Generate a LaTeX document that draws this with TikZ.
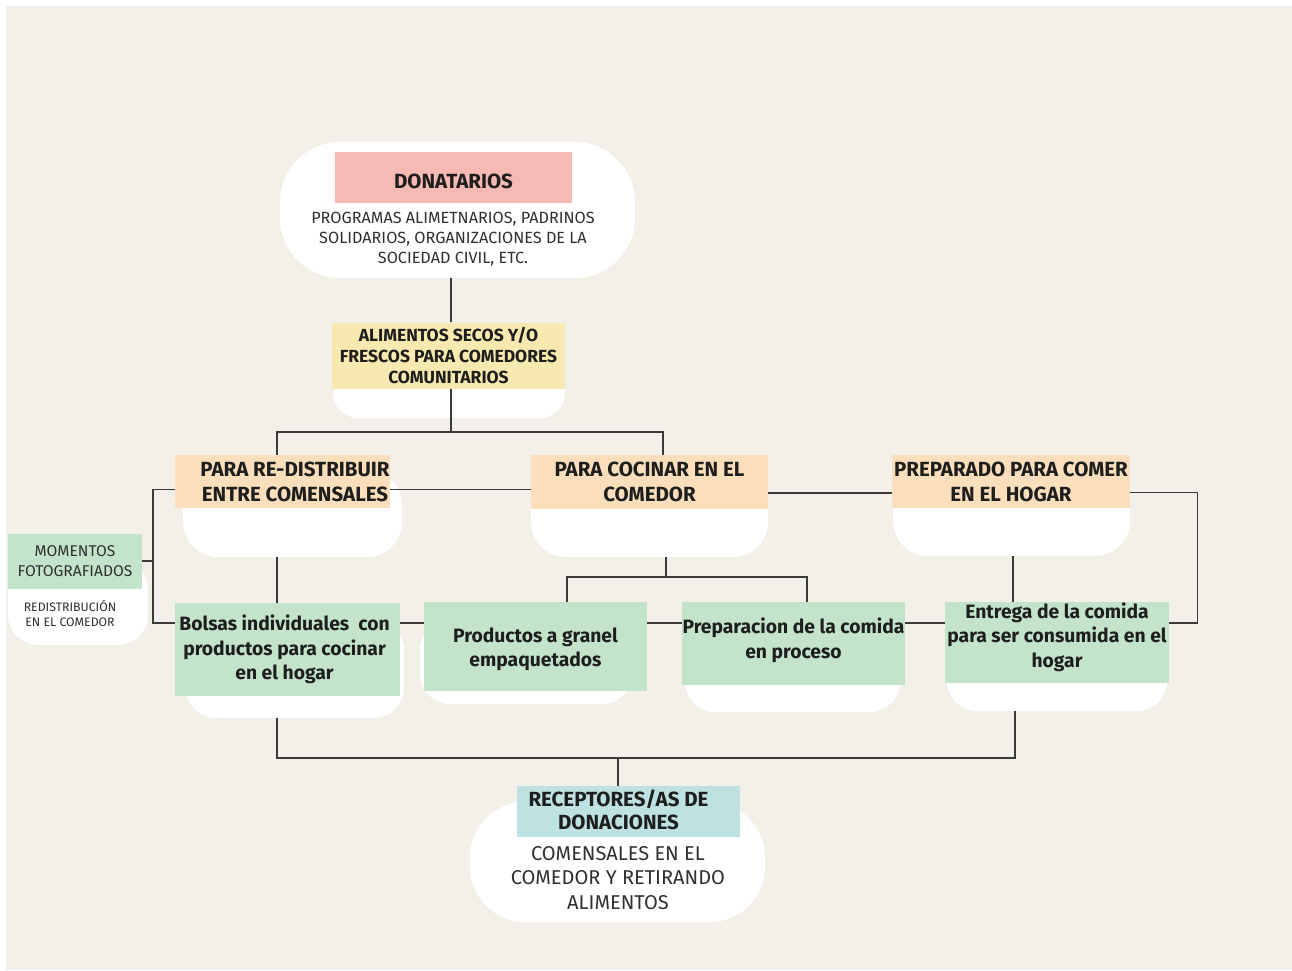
\documentclass[tikz,border=0pt]{standalone}
\usepackage{fontspec}
\setmainfont{Fira Sans}
\usetikzlibrary{positioning}

\definecolor{crema}{HTML}{F3EFE9}
\definecolor{rosa}{HTML}{F6B9B4}
\definecolor{amarillo}{HTML}{F8E9B0}
\definecolor{naranja}{HTML}{FBDFBC}
\definecolor{verde}{HTML}{C3E4CB}
\definecolor{celeste}{HTML}{BEE2E2}
\definecolor{linea}{HTML}{3A3A3A}
\definecolor{texto}{HTML}{1E1E1E}
\definecolor{gristxt}{HTML}{303030}

\tikzset{
  blanco/.style={fill=white, inner sep=0pt},
  caja/.style={inner sep=0pt, align=center, text=texto, font=\bfseries\fontsize{20.5}{25}\selectfont},
  verdecaja/.style={caja, fill=verde, font=\bfseries\fontsize{19.3}{25}\selectfont},
  verdetxt/.style={caja, font=\bfseries\fontsize{19.3}{24.5}\selectfont},
  cuerpo/.style={inner sep=0pt, align=center, text=gristxt, font=\fontsize{16.2}{20}\selectfont},
  conector/.style={draw=linea, line width=1.4pt}
}

\begin{document}
\begin{tikzpicture}[x=1pt,y=-1pt]
\fill[white] (0,0) rectangle (1292,970);
\fill[crema] (6,6) rectangle (1292,970);

\node[blanco, minimum width=355pt, minimum height=136pt, rounded corners=60pt] (donbg) at (457.5,210) {};
\node[fill=rosa, minimum width=237pt, minimum height=51pt, label={[caja, yshift=-4pt]center:DONATARIOS}] (don) at (453.5,177.5) {};
\node[cuerpo] (donbody) at (453,239) {PROGRAMAS ALIMETNARIOS, PADRINOS\\SOLIDARIOS, ORGANIZACIONES DE LA\\SOCIEDAD CIVIL, ETC.};

\node[blanco, minimum width=232pt, minimum height=78pt, rounded corners=25pt] (alimbg) at (449,379) {};
\node[caja, fill=amarillo, minimum width=233pt, minimum height=66pt, font=\bfseries\fontsize{17.5}{21}\selectfont] (alim) at (448.5,355.5) {ALIMENTOS SECOS Y/O\\FRESCOS PARA COMEDORES\\COMUNITARIOS};

\node[blanco, minimum width=219pt, minimum height=87pt, rounded corners=35pt] (redistbg) at (292.5,513.5) {};
\node[fill=naranja, minimum width=215pt, minimum height=53pt, label={[caja, xshift=12.5pt]center:{PARA RE-DISTRIBUIR\\ENTRE COMENSALES}}] (redist) at (282.5,481.5) {};
\node[blanco, minimum width=237pt, minimum height=87pt, rounded corners=35pt] (cocinarbg) at (649.5,513.5) {};
\node[caja, fill=naranja, minimum width=237pt, minimum height=54pt] (cocinar) at (649.5,482) {PARA COCINAR EN EL\\COMEDOR};
\node[blanco, minimum width=237pt, minimum height=86pt, rounded corners=35pt] (hogarbg) at (1011.5,513) {};
\node[caja, fill=naranja, minimum width=238pt, minimum height=53pt] (hogar) at (1011,481.5) {PREPARADO PARA COMER\\EN EL HOGAR};

\node[blanco, minimum width=140pt, minimum height=85pt, rounded corners=30pt] (momentosbg) at (78,602.5) {};
\node[cuerpo, fill=verde, minimum width=134pt, minimum height=55pt, font=\fontsize{15.6}{20}\selectfont] (momentos) at (75,561) {MOMENTOS\\FOTOGRAFIADOS};
\node[cuerpo, font=\fontsize{12.3}{15}\selectfont] (momentosbody) at (70,613) {REDISTRIBUCIÓN\\EN EL COMEDOR};

\node[blanco, minimum width=218pt, minimum height=98pt, rounded corners=30pt] (bolsasbg) at (295,669) {};
\node[fill=verde, minimum width=225pt, minimum height=93pt, label={[verdetxt, xshift=-3pt]center:{Bolsas individuales~ con\\productos para cocinar\\en el hogar}}] (bolsas) at (287.5,649.5) {};
\node[blanco, minimum width=212pt, minimum height=84pt, rounded corners=30pt] (granelbg) at (526,662) {};
\node[fill=verde, minimum width=223pt, minimum height=89pt, label={[verdetxt, yshift=-3pt]center:{Productos a granel\\empaquetados}}] (granel) at (535.5,646.5) {};
\node[blanco, minimum width=215pt, minimum height=92pt, rounded corners=30pt] (prepabg) at (792.5,666) {};
\node[fill=verde, minimum width=223pt, minimum height=83pt, label={[verdetxt, yshift=3pt]center:{Preparacion de la comida\\en proceso}}] (prepa) at (793.5,643.5) {};
\node[blanco, minimum width=220pt, minimum height=91pt, rounded corners=30pt] (entregabg) at (1057,665.5) {};
\node[fill=verde, minimum width=224pt, minimum height=81pt, label={[verdetxt, yshift=5.5pt]center:{Entrega de la comida\\para ser consumida en el\\hogar}}] (entrega) at (1057,642.5) {};

\node[blanco, minimum width=295pt, minimum height=120pt, rounded corners=55pt] (recepbg) at (617.5,862) {};
\node[fill=celeste, minimum width=223pt, minimum height=51pt, label={[caja, font=\bfseries\fontsize{20.5}{23}\selectfont, xshift=-10pt, yshift=2pt]center:{RECEPTORES/AS DE\\DONACIONES}}] (recep) at (628.5,811.5) {};
\node[cuerpo, font=\fontsize{20}{24.5}\selectfont] (recepbody) at (618,878) {COMENSALES EN EL\\COMEDOR Y RETIRANDO\\ALIMENTOS};

\coordinate (busA) at (451,432);
\coordinate (fork) at (666,577);
\coordinate (busB) at (618,758);

\draw[conector] ([xshift=2.5pt]alim.north |- donbg.south) -- ([xshift=2.5pt]alim.north);
\draw[conector] ([xshift=2.5pt]alim.south) -- (busA);
\draw[conector] ([xshift=-5.5pt]redist.north) |- (busA) -| ([xshift=13.5pt]cocinar.north);
\draw[conector] ([yshift=-8pt]redist.east) -- ([yshift=-8pt]redist.east -| cocinar.west);
\draw[conector] ([yshift=-11pt]cocinar.east) -- ([yshift=-11pt]cocinar.east -| hogar.west);
\draw[conector] ([yshift=-8pt]redist.west) -- ++(-22pt,0) |- ([yshift=26.5pt]bolsas.west);
\draw[conector] (momentos.east) -- ++(11pt,0);
\draw[conector] ([xshift=-5.5pt]redist.north |- redistbg.south) -- ([xshift=-5.5pt]redist.north |- bolsas.north);
\draw[conector] ([xshift=16.5pt]cocinar.north |- cocinarbg.south) -- (fork);
\draw[conector] ([xshift=31.5pt]granel.north) |- (fork) -| ([xshift=13.5pt]prepa.north);
\draw[conector] ([xshift=2pt]hogar.south |- hogarbg.south) -- ([xshift=2pt]hogar.south |- entrega.north);
\draw[conector] ([yshift=-11pt]hogar.east) -- ++(67pt,0) |- ([yshift=19.5pt]entrega.east);
\draw[conector] ([yshift=26.5pt]bolsas.east) -- ([yshift=26.5pt]bolsas.east -| granel.west);
\draw[conector] ([yshift=23.5pt]granel.east) -- ([yshift=23.5pt]granel.east -| prepa.west);
\draw[conector] ([yshift=20.5pt]prepa.east) -- ([yshift=20.5pt]prepa.east -| entrega.west);
\draw[conector] ([xshift=-10.5pt]recep.north) -- (busB);
\draw[conector] ([xshift=-10.5pt]bolsas.south |- bolsasbg.south) |- (busB) -| ([xshift=-42pt]entrega.south |- entregabg.south);
\end{tikzpicture}
\end{document}
